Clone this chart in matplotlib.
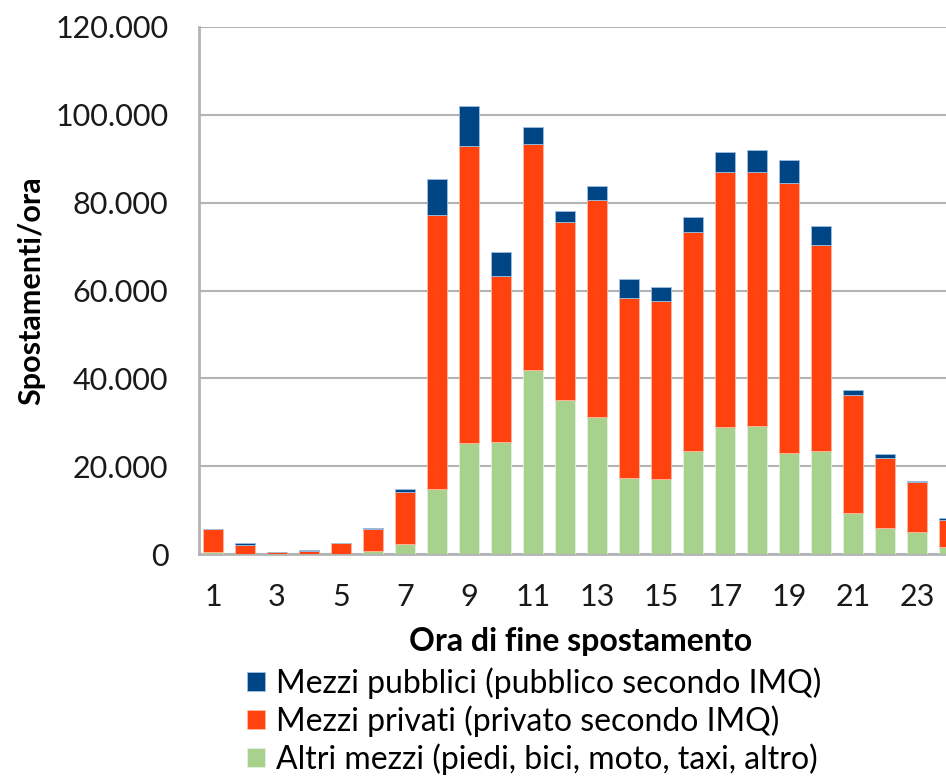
import numpy as np
import matplotlib
matplotlib.use('Agg')
import matplotlib.pyplot as plt
from matplotlib.ticker import FuncFormatter

plt.rcParams['font.family'] = ['Lato', 'DejaVu Sans']

# Ore di fine spostamento
ore = list(range(1, 25))

# Valori in migliaia di spostamenti/ora
altri = [0.4, 0.1, 0.05, 0.1, 0.1, 0.7, 2.2, 14.9, 25.2, 25.5, 41.8, 35.0,
         31.1, 17.3, 17.0, 23.4, 28.9, 29.2, 22.9, 23.4, 9.4, 6.0, 5.1, 1.5]
privati = [5.2, 2.0, 0.35, 0.5, 2.3, 4.9, 11.9, 62.4, 67.7, 37.8, 51.5, 40.6,
           49.6, 41.0, 40.5, 49.9, 58.1, 57.8, 61.5, 47.0, 26.7, 15.8, 11.3, 6.2]
pubblici = [0.1, 0.3, 0.05, 0.3, 0.1, 0.3, 0.8, 8.1, 9.1, 5.5, 4.0, 2.4,
            3.1, 4.4, 3.3, 3.4, 4.5, 5.0, 5.3, 4.4, 1.3, 0.9, 0.3, 0.4]

etichette = ['Mezzi pubblici (pubblico secondo IMQ)',
             'Mezzi privati (privato secondo IMQ)',
             'Altri mezzi (piedi, bici, moto, taxi, altro)']
colori = ['#004586', '#ff420e', '#a9d18e']

x = np.array(ore)
a = np.array(altri) * 1000
p = np.array(privati) * 1000
b = np.array(pubblici) * 1000

fig = plt.figure(figsize=(9.46, 7.77), dpi=100)
ax = fig.add_axes([199 / 946, 1 - 554 / 777, 1 - 199 / 946, (554 - 27) / 777])

w = 0.62
h_altri = ax.bar(x, a, w, color=colori[2], edgecolor='#e6f0df', linewidth=0.6, zorder=3)
h_priv = ax.bar(x, p, w, bottom=a, color=colori[1], edgecolor='#ffb8a0', linewidth=0.6, zorder=3)
h_pubb = ax.bar(x, b, w, bottom=a + p, color=colori[0], edgecolor='#9fc0e0', linewidth=0.6, zorder=3)

ax.set_xlim(1 - 14 / 32, 1 + (946 - 213) / 32)
ax.set_ylim(0, 120000)
ax.set_yticks(np.arange(0, 120001, 20000))
ax.yaxis.set_major_formatter(FuncFormatter(lambda v, pos: f'{int(v):,}'.replace(',', '.')))
ax.set_xticks(ore[::2])
ax.tick_params(axis='both', length=0, labelsize=22, colors='#1a1a1a')
ax.tick_params(axis='y', pad=22)
ax.tick_params(axis='x', pad=21)

ax.grid(axis='y', color='#b3b3b3', linewidth=1.5, zorder=0)
for s in ['top', 'right']:
    ax.spines[s].set_visible(False)
for s in ['left', 'bottom']:
    ax.spines[s].set_color('#b3b3b3')
    ax.spines[s].set_linewidth(2)

ax.set_ylabel('Spostamenti/ora', fontsize=22, fontweight='bold', labelpad=7)
ax.set_xlabel('Ora di fine spostamento', fontsize=23, fontweight='bold')
ax.xaxis.set_label_coords(0.511, -0.138)

fig.legend([h_pubb, h_priv, h_altri], etichette, loc='upper left',
           bbox_to_anchor=(247 / 946, 1 - 667 / 777), frameon=False, fontsize=23,
           handlelength=0.56, handleheight=0.56, handletextpad=0.35,
           labelspacing=0.2, borderpad=0, borderaxespad=0)

fig.savefig('out.png', dpi=100)
